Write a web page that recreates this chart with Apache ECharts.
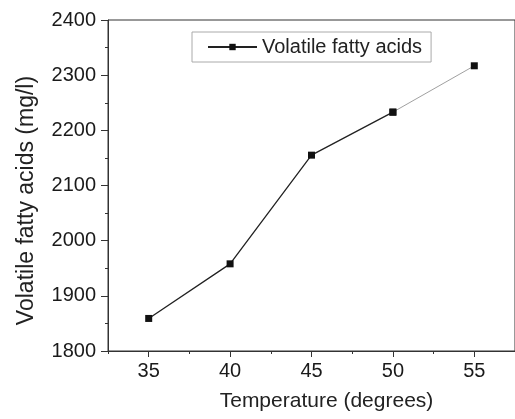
<!DOCTYPE html>
<html>
<head>
<meta charset="utf-8">
<script src="https://cdn.jsdelivr.net/npm/echarts@6/dist/echarts.min.js"></script>
<style>
html,body{margin:0;padding:0;background:#fff;}
#chart{width:515px;height:419px;}
</style>
</head>
<body>
<div id="chart"></div>
<script>
// 数据
var temps = [35, 40, 45, 50, 55];
var vfa = [1859, 1958, 2155, 2233, 2317];
var xMajor = [35, 40, 45, 50, 55];
var xMinor = [32.5, 37.5, 42.5, 47.5, 52.5, 57.5];
var seriesName = 'Volatile fatty acids';

function pairs(xs, ys) {
    var out = [];
    for (var i = 0; i < xs.length; i++) {
        out.push([xs[i], ys[i]]);
    }
    return out;
}
var allData = pairs(temps, vfa);

var font = 'Liberation Sans, Arial, sans-serif';
var axisColor = '#333';

var option = {
    animation: false,
    grid: {
        left: 108, top: 20, right: -5, bottom: 68,
        show: true, borderColor: axisColor, borderWidth: 1
    },
    legend: {
        left: 192, top: 32,
        padding: [5, 9, 5, 15],
        borderColor: '#aaa', borderWidth: 1,
        itemWidth: 49, itemHeight: 8, itemGap: 6,
        textStyle: {fontFamily: font, fontSize: 20, color: '#222'},
        data: [seriesName]
    },
    xAxis: [{
        type: 'value', min: 32.5, max: 57.5,
        name: 'Temperature (degrees)', nameLocation: 'middle', nameGap: 40,
        nameTextStyle: {fontFamily: font, fontSize: 21, color: '#222', padding: [0, 0, 0, 30]},
        splitLine: {show: false},
        axisLine: {lineStyle: {color: axisColor}},
        axisTick: {inside: false, length: 6, customValues: xMajor, lineStyle: {color: axisColor}},
        axisLabel: {customValues: xMajor, margin: 10, fontFamily: font, fontSize: 20, color: '#1a1a1a'}
    }, {
        type: 'value', min: 32.5, max: 57.5, position: 'bottom',
        axisLine: {show: false},
        splitLine: {show: false},
        axisTick: {length: 3, customValues: xMinor, lineStyle: {color: axisColor}},
        axisLabel: {show: false}
    }],
    yAxis: {
        type: 'value', min: 1800, max: 2400, interval: 100,
        name: 'Volatile fatty acids (mg/l)', nameLocation: 'middle', nameGap: 70,
        nameTextStyle: {fontFamily: font, fontSize: 23, color: '#222', padding: [0, 30, 0, 0]},
        splitLine: {show: false},
        axisLine: {show: true, lineStyle: {color: axisColor}},
        axisTick: {length: 7, lineStyle: {color: axisColor}},
        minorTick: {show: true, splitNumber: 2, length: 3, lineStyle: {color: axisColor}},
        axisLabel: {
            margin: 12, fontFamily: font, fontSize: 20, color: '#1a1a1a',
            formatter: function (v) { return String(v); }
        }
    },
    series: [{
        name: seriesName, type: 'line',
        data: allData.slice(0, 4),
        symbol: 'rect', symbolSize: 7,
        itemStyle: {color: '#111'},
        lineStyle: {color: '#222', width: 1.3}
    }, {
        name: seriesName, type: 'line',
        data: allData.slice(3),
        symbol: 'rect', symbolSize: 7,
        itemStyle: {color: '#111'},
        lineStyle: {color: '#888', width: 0.8}
    }]
};

var myChart = echarts.init(document.getElementById('chart'));
myChart.setOption(option);
</script>
</body>
</html>
